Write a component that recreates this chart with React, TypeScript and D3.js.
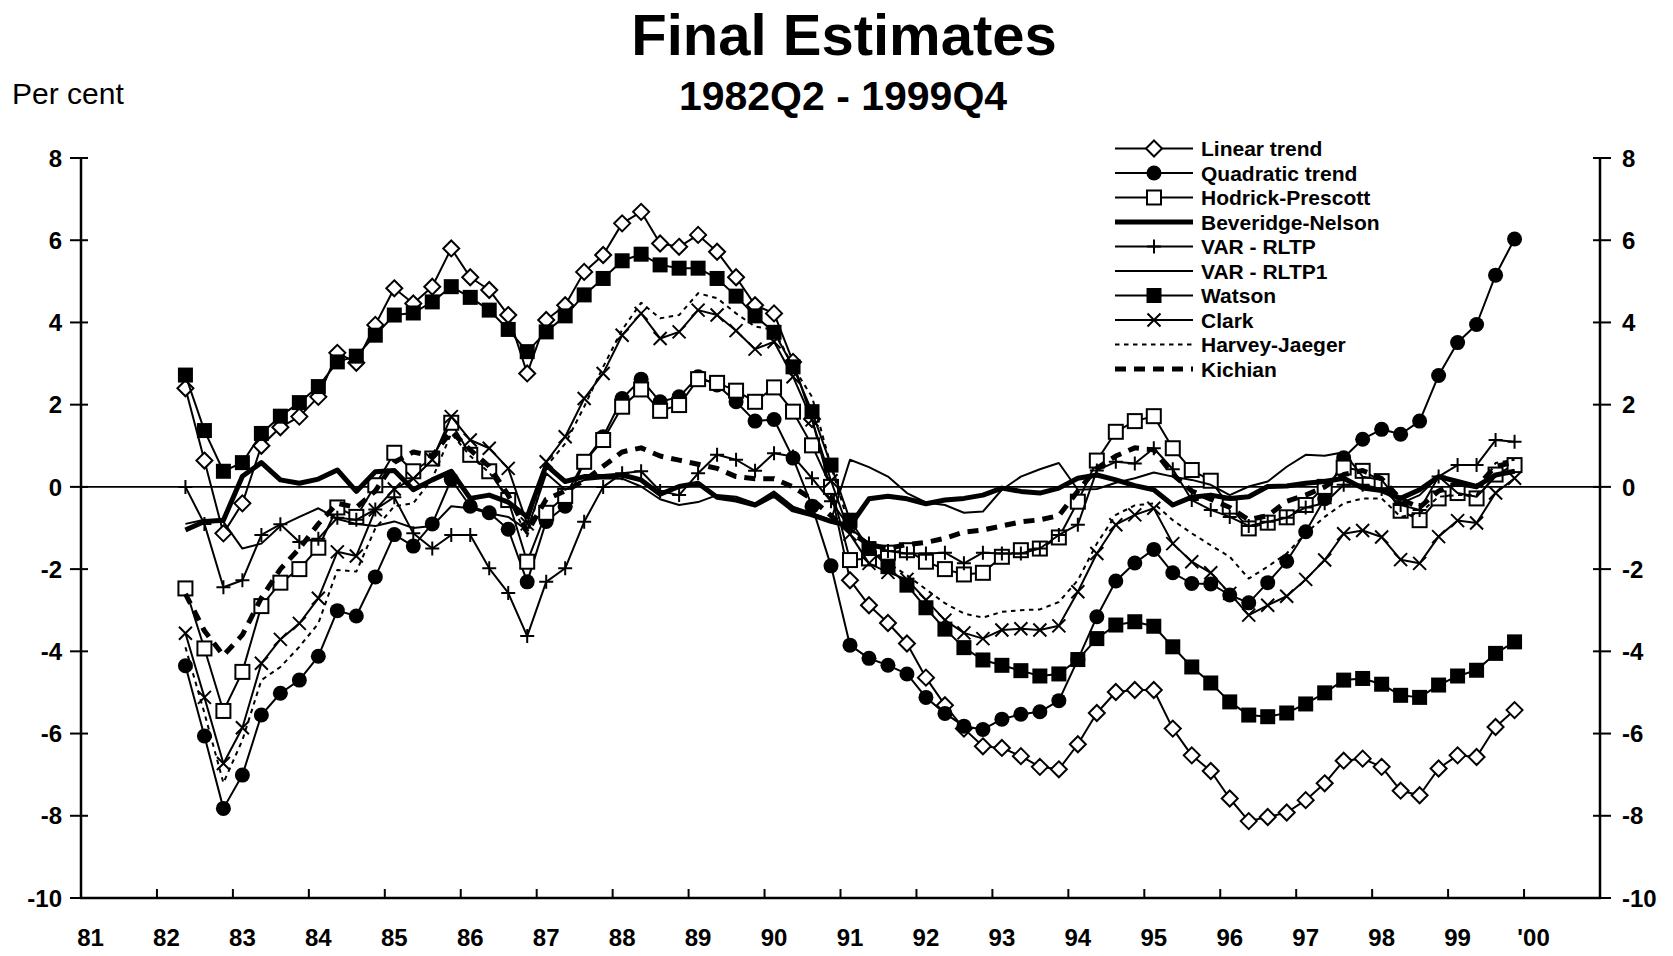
import React from "react";
import * as d3 from "d3";

// 1982Q2 .. 1999Q4 (71 quarters)
const startIndex = 5; // category index of 1982Q2 (0 = 1981Q1)
const yearLabels = ["81","82","83","84","85","86","87","88","89","90","91","92","93","94","95","96","97","98","99","'00"];
const yTicks = [8, 6, 4, 2, 0, -2, -4, -6, -8, -10];

const linearTrend = [2.40,0.64,-1.13,-0.40,1.00,1.45,1.71,2.19,3.26,3.02,3.94,4.83,4.46,4.87,5.80,5.10,4.79,4.18,2.76,4.06,4.42,5.23,5.64,6.41,6.69,5.92,5.84,6.13,5.72,5.10,4.42,4.22,3.04,1.65,-0.10,-2.27,-2.88,-3.31,-3.81,-4.64,-5.31,-5.88,-6.31,-6.35,-6.55,-6.81,-6.87,-6.26,-5.50,-4.99,-4.94,-4.94,-5.88,-6.53,-6.91,-7.58,-8.13,-8.03,-7.92,-7.62,-7.21,-6.66,-6.61,-6.81,-7.39,-7.50,-6.85,-6.53,-6.57,-5.84,-5.43];
const quadraticTrend = [-4.35,-6.06,-7.82,-7.01,-5.55,-5.02,-4.70,-4.12,-3.01,-3.14,-2.19,-1.16,-1.44,-0.90,0.18,-0.47,-0.63,-1.03,-2.31,-0.84,-0.47,0.61,1.22,2.15,2.62,2.07,2.19,2.68,2.48,2.07,1.60,1.64,0.70,-0.47,-1.92,-3.85,-4.17,-4.34,-4.55,-5.12,-5.51,-5.82,-5.90,-5.65,-5.53,-5.47,-5.20,-4.20,-3.16,-2.29,-1.85,-1.52,-2.09,-2.35,-2.36,-2.63,-2.82,-2.33,-1.81,-1.09,-0.29,0.71,1.16,1.40,1.28,1.60,2.71,3.51,3.95,5.15,6.03];
const hodrickPrescott = [-2.47,-3.93,-5.45,-4.50,-2.90,-2.33,-2.00,-1.48,-0.50,-0.73,0.04,0.83,0.38,0.69,1.56,0.78,0.38,-0.32,-1.82,-0.63,-0.22,0.61,1.14,1.95,2.37,1.85,1.99,2.62,2.53,2.34,2.07,2.42,1.83,1.01,0.00,-1.78,-1.74,-1.60,-1.54,-1.82,-2.00,-2.13,-2.09,-1.70,-1.54,-1.50,-1.23,-0.36,0.64,1.34,1.60,1.72,0.94,0.41,0.15,-0.48,-1.01,-0.87,-0.74,-0.44,0.00,0.47,0.39,0.14,-0.58,-0.81,-0.28,-0.15,-0.28,0.30,0.53];
const beveridgeNelson = [-1.05,-0.84,-0.81,0.26,0.59,0.17,0.09,0.19,0.41,-0.11,0.37,0.40,-0.07,0.17,0.38,-0.28,-0.20,-0.37,-0.73,0.53,0.13,0.25,0.25,0.29,0.17,-0.18,0.01,0.09,-0.25,-0.32,-0.44,-0.20,-0.56,-0.68,-0.84,-0.95,-0.29,-0.23,-0.29,-0.41,-0.32,-0.28,-0.20,-0.03,-0.11,-0.15,-0.03,0.21,0.29,0.17,0.03,-0.07,-0.44,-0.25,-0.20,-0.28,-0.24,0.01,0.02,0.09,0.13,0.21,-0.03,-0.09,-0.28,-0.07,0.25,0.13,0.01,0.29,0.38];
const varRltp = [0.00,-0.90,-2.44,-2.27,-1.17,-0.91,-1.34,-1.26,-0.75,-0.80,-0.55,-0.25,-1.13,-1.50,-1.17,-1.17,-1.98,-2.58,-3.63,-2.31,-1.98,-0.85,0.00,0.33,0.38,-0.10,-0.20,0.33,0.78,0.66,0.39,0.82,0.74,0.21,-0.35,-1.00,-1.38,-1.56,-1.62,-1.62,-1.60,-1.86,-1.60,-1.62,-1.62,-1.50,-1.17,-0.92,0.40,0.61,0.57,0.94,0.43,-0.32,-0.56,-0.73,-0.95,-0.85,-0.75,-0.50,-0.40,0.05,0.05,-0.05,-0.44,-0.56,0.25,0.53,0.53,1.14,1.10];
const varRltp1 = [-0.90,-0.80,-0.85,-1.50,-1.38,-0.95,-0.73,-0.52,-0.78,-0.90,-0.95,-0.84,-1.00,-0.95,-0.47,-0.52,-0.64,-0.73,-1.05,0.33,-0.07,0.17,0.21,0.20,0.01,-0.30,-0.44,-0.37,-0.20,-0.24,-0.40,-0.11,-0.48,-0.64,-0.81,0.66,0.48,0.25,-0.15,-0.38,-0.44,-0.63,-0.60,-0.07,0.25,0.43,0.58,-0.07,-0.05,0.10,0.21,0.35,0.25,0.17,0.05,-0.20,0.01,0.13,0.49,0.78,0.76,0.84,0.25,0.17,-0.40,-0.20,0.25,-0.15,-0.24,0.25,0.41];
const watson = [2.72,1.37,0.38,0.59,1.30,1.72,2.05,2.44,3.04,3.18,3.69,4.18,4.23,4.50,4.87,4.61,4.30,3.83,3.29,3.77,4.16,4.67,5.07,5.50,5.66,5.40,5.32,5.32,5.07,4.64,4.16,3.76,2.92,1.83,0.53,-0.81,-1.50,-1.94,-2.39,-2.94,-3.46,-3.91,-4.21,-4.34,-4.47,-4.60,-4.55,-4.20,-3.69,-3.36,-3.28,-3.39,-3.89,-4.38,-4.77,-5.23,-5.55,-5.59,-5.50,-5.28,-5.01,-4.70,-4.66,-4.80,-5.07,-5.12,-4.82,-4.60,-4.46,-4.05,-3.77];
const clark = [-3.56,-5.12,-6.73,-5.86,-4.29,-3.71,-3.32,-2.71,-1.58,-1.68,-0.56,-0.05,0.20,0.66,1.71,1.14,0.94,0.45,-0.90,0.61,1.22,2.15,2.76,3.69,4.22,3.61,3.77,4.30,4.18,3.80,3.35,3.53,2.68,1.63,0.15,-1.15,-1.86,-2.08,-2.25,-2.75,-3.24,-3.55,-3.69,-3.48,-3.45,-3.48,-3.38,-2.55,-1.62,-0.92,-0.68,-0.52,-1.38,-1.82,-2.09,-2.59,-3.12,-2.88,-2.66,-2.25,-1.78,-1.14,-1.06,-1.22,-1.77,-1.86,-1.21,-0.82,-0.88,-0.15,0.21];
const harveyJaeger = [-3.90,-5.50,-7.20,-6.16,-4.70,-4.38,-3.89,-3.32,-2.02,-2.06,-1.01,-0.47,-0.40,0.20,1.30,0.75,0.35,-0.25,-1.20,0.50,1.05,1.95,2.92,3.82,4.48,4.10,4.18,4.71,4.59,4.22,3.90,3.82,2.92,2.19,0.50,-1.00,-1.50,-1.85,-2.15,-2.49,-2.83,-3.08,-3.18,-3.04,-3.00,-2.98,-2.80,-2.27,-1.38,-0.68,-0.45,-0.40,-0.81,-1.13,-1.42,-1.70,-2.23,-1.94,-1.62,-1.13,-0.73,-0.40,-0.28,-0.28,-0.73,-0.64,-0.24,-0.20,-0.20,0.58,0.66];
const kichian = [-2.60,-3.50,-4.10,-3.60,-2.70,-2.00,-1.50,-0.90,-0.40,-0.50,-0.10,0.60,0.85,0.75,1.35,0.90,0.50,-0.20,-1.10,-0.30,-0.10,0.15,0.50,0.85,0.95,0.75,0.65,0.55,0.45,0.25,0.20,0.20,0.00,-0.30,-0.70,-1.10,-1.40,-1.50,-1.40,-1.35,-1.25,-1.10,-1.05,-0.95,-0.85,-0.80,-0.70,-0.10,0.45,0.75,0.95,0.90,0.30,-0.10,-0.30,-0.50,-0.80,-0.70,-0.35,-0.20,0.00,0.30,0.40,0.20,-0.30,-0.50,-0.10,0.10,0.00,0.50,0.60];

type Marker = "diamond" | "circle" | "openSquare" | "none" | "plus" | "square" | "x";
interface Series { name: string; values: number[]; marker: Marker; width: number; dash?: string; }

const seriesList: Series[] = [
  { name: "Linear trend", values: linearTrend, marker: "diamond", width: 2 },
  { name: "Quadratic trend", values: quadraticTrend, marker: "circle", width: 2 },
  { name: "Hodrick-Prescott", values: hodrickPrescott, marker: "openSquare", width: 2 },
  { name: "Beveridge-Nelson", values: beveridgeNelson, marker: "none", width: 5 },
  { name: "VAR - RLTP", values: varRltp, marker: "plus", width: 2 },
  { name: "VAR - RLTP1", values: varRltp1, marker: "none", width: 2 },
  { name: "Watson", values: watson, marker: "square", width: 2 },
  { name: "Clark", values: clark, marker: "x", width: 2 },
  { name: "Harvey-Jaeger", values: harveyJaeger, marker: "none", width: 2, dash: "4.5 4.5" },
  { name: "Kichian", values: kichian, marker: "none", width: 5, dash: "11 8" },
];

const W = 1673, H = 956;
const left = 81, right = 1600, top = 158, bottom = 898;
const FONT = "'Liberation Sans', Arial, Helvetica, sans-serif";

const x = d3.scaleLinear().domain([0, 80]).range([left, right]);
const y = d3.scaleLinear().domain([-10, 8]).range([bottom, top]);

function MarkerShape({ type, cx, cy }: { type: Marker; cx: number; cy: number }) {
  switch (type) {
    case "diamond": {
      const r = 8;
      return <polygon points={`${cx},${cy - r} ${cx + r},${cy} ${cx},${cy + r} ${cx - r},${cy}`} fill="#fff" stroke="#000" strokeWidth={2} />;
    }
    case "circle":
      return <circle cx={cx} cy={cy} r={7.5} fill="#000" />;
    case "openSquare":
      return <rect x={cx - 7} y={cy - 7} width={14} height={14} fill="#fff" stroke="#000" strokeWidth={2} />;
    case "square":
      return <rect x={cx - 7.5} y={cy - 7.5} width={15} height={15} fill="#000" />;
    case "plus":
      return <path d={`M${cx - 7},${cy}H${cx + 7}M${cx},${cy - 7}V${cy + 7}`} stroke="#000" strokeWidth={2} />;
    case "x":
      return <path d={`M${cx - 6.5},${cy - 6.5}L${cx + 6.5},${cy + 6.5}M${cx - 6.5},${cy + 6.5}L${cx + 6.5},${cy - 6.5}`} stroke="#000" strokeWidth={2} />;
    default:
      return null;
  }
}

export default function App() {
  const line = d3.line<number>().x((_, k) => x(startIndex + k + 0.5)).y((v) => y(v));
  const legendX1 = 1115, legendX2 = 1193, legendTextX = 1201, legendY0 = 148.5, legendDy = 24.5;

  return (
    <svg width={W} height={H} style={{ position: "absolute", left: 0, top: 0, background: "#fff" }} fontFamily={FONT}>
      <rect x={0} y={0} width={W} height={H} fill="#fff" />
      <text x={844} y={54.5} textAnchor="middle" fontSize={58} fontWeight="bold">Final Estimates</text>
      <text x={843} y={110} textAnchor="middle" fontSize={41} fontWeight="bold">1982Q2 - 1999Q4</text>
      <text x={12} y={103.5} fontSize={30}>Per cent</text>

      {/* zero line */}
      <line x1={left} x2={right} y1={y(0)} y2={y(0)} stroke="#000" strokeWidth={1.6} />

      {/* series */}
      {seriesList.map((s) => (
        <g key={s.name}>
          <path d={line(s.values) || ""} fill="none" stroke="#000" strokeWidth={s.width} strokeDasharray={s.dash} strokeLinejoin="round" />
          {s.marker !== "none" && s.values.map((v, k) => (
            <MarkerShape key={k} type={s.marker} cx={x(startIndex + k + 0.5)} cy={y(v)} />
          ))}
        </g>
      ))}

      {/* axes */}
      <line x1={left} x2={left} y1={top} y2={bottom} stroke="#000" strokeWidth={2.5} />
      <line x1={right} x2={right} y1={top} y2={bottom} stroke="#000" strokeWidth={2.5} />
      <line x1={left - 1} x2={right + 1} y1={bottom} y2={bottom} stroke="#000" strokeWidth={2.5} />
      {yTicks.map((t) => (
        <g key={t}>
          <line x1={left - 11} x2={left + 7} y1={y(t)} y2={y(t)} stroke="#000" strokeWidth={2} />
          <line x1={right - 7} x2={right + 11} y1={y(t)} y2={y(t)} stroke="#000" strokeWidth={2} />
          <text x={62} y={y(t)} dy="0.36em" textAnchor="end" fontSize={24} fontWeight="bold">{t}</text>
          <text x={1622} y={y(t)} dy="0.36em" textAnchor="start" fontSize={24} fontWeight="bold">{t}</text>
        </g>
      ))}
      {yearLabels.map((lab, j) => (
        <g key={lab}>
          {j > 0 && <line x1={x(j * 4)} x2={x(j * 4)} y1={bottom} y2={bottom - 9} stroke="#000" strokeWidth={2} />}
          <text x={x(j * 4 + 0.5)} y={946} textAnchor="middle" fontSize={24} fontWeight="bold">{lab}</text>
        </g>
      ))}

      {/* legend */}
      {seriesList.map((s, i) => {
        const ly = legendY0 + i * legendDy;
        return (
          <g key={"lg" + s.name}>
            <line x1={legendX1} x2={legendX2} y1={ly} y2={ly} stroke="#000" strokeWidth={s.width} strokeDasharray={s.dash} />
            {s.marker !== "none" && <MarkerShape type={s.marker} cx={(legendX1 + legendX2) / 2} cy={ly} />}
            <text x={legendTextX} y={ly} dy="0.36em" fontSize={21} fontWeight="bold">{s.name}</text>
          </g>
        );
      })}
    </svg>
  );
}
